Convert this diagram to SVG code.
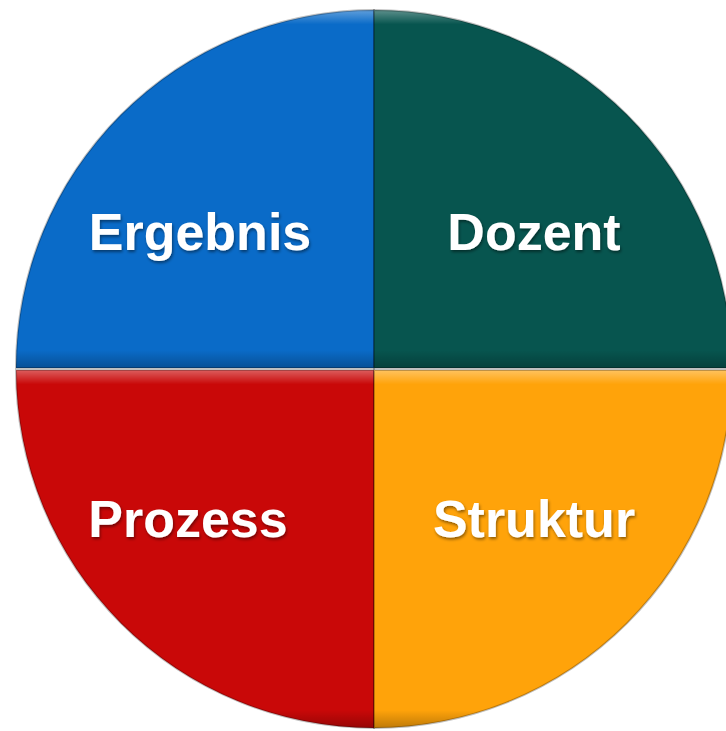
<svg xmlns="http://www.w3.org/2000/svg" width="726" height="731" viewBox="0 0 726 731">
<defs>
<style>
.lbl{font-family:"Liberation Sans",Arial,sans-serif;font-weight:bold;font-size:52px;fill:#fff;text-anchor:middle}
.edge{fill:none;stroke:#000;stroke-opacity:0.25;stroke-width:2}
</style>
<filter id="ts" x="-10%" y="-10%" width="120%" height="130%">
<feDropShadow dx="1" dy="2" stdDeviation="1.5" flood-color="#000" flood-opacity="0.45"/>
</filter>
<linearGradient id="hlTop" x1="0" y1="0" x2="0" y2="1">
<stop offset="0" stop-color="#fff" stop-opacity="0.35"/>
<stop offset="0.04" stop-color="#fff" stop-opacity="0"/>
<stop offset="0.95" stop-color="#000" stop-opacity="0"/>
<stop offset="1" stop-color="#000" stop-opacity="0.25"/>
</linearGradient>
</defs>
<rect width="726" height="731" fill="#fff"/>
<g id="ergebnis">
<path d="M374,368 L374,10 A358,358 0 0 0 16,368 Z" fill="#0A6BC8"/>
<path d="M374,368 L374,10 A358,358 0 0 0 16,368 Z" fill="url(#hlTop)"/>
<path d="M374,368 L374,10 A358,358 0 0 0 16,368 Z" class="edge"/>
<text class="lbl" x="200" y="250" filter="url(#ts)">Ergebnis</text>
</g>
<g id="dozent">
<path d="M374,368 L374,10 A358,358 0 0 1 732,368 Z" fill="#07554F"/>
<path d="M374,368 L374,10 A358,358 0 0 1 732,368 Z" fill="url(#hlTop)"/>
<path d="M374,368 L374,10 A358,358 0 0 1 732,368 Z" class="edge"/>
<text class="lbl" x="534" y="250" filter="url(#ts)">Dozent</text>
</g>
<g id="prozess">
<path d="M374,370 L16,370 A358,358 0 0 0 374,728 Z" fill="#C90808"/>
<path d="M374,370 L16,370 A358,358 0 0 0 374,728 Z" fill="url(#hlTop)"/>
<path d="M374,370 L16,370 A358,358 0 0 0 374,728 Z" class="edge"/>
<text class="lbl" x="188" y="537" filter="url(#ts)">Prozess</text>
</g>
<g id="struktur">
<path d="M374,370 L732,370 A358,358 0 0 1 374,728 Z" fill="#FFA30A"/>
<path d="M374,370 L732,370 A358,358 0 0 1 374,728 Z" fill="url(#hlTop)"/>
<path d="M374,370 L732,370 A358,358 0 0 1 374,728 Z" class="edge"/>
<text class="lbl" x="534" y="537" filter="url(#ts)">Struktur</text>
</g>
<g id="connectors"/>
</svg>
